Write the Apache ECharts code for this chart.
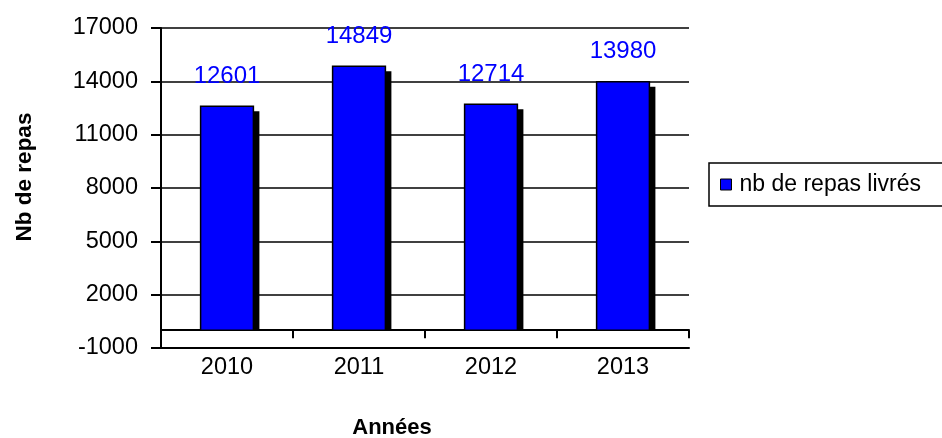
<!DOCTYPE html>
<html lang="fr">
<head>
    <meta charset="UTF-8">
    <title>Nb de repas livrés</title>
    <script src="https://cdn.jsdelivr.net/npm/echarts/dist/echarts.min.js"></script>
    <style>
        body { margin: 0; background: #fff; }
        #chart { width: 942px; height: 438px; }
    </style>
</head>
<body>
    <div id="chart"></div>
    <script>
        // data
        const years = ['2010', '2011', '2012', '2013'];
        const repas = [12601, 14849, 12714, 13980];
        const seriesName = 'nb de repas livrés';

        const FONT = '"Liberation Sans", Arial, sans-serif';
        const chart = echarts.init(document.getElementById('chart'));

        // bar with a flat black shadow, drawn from the axis coords
        function drawBar(params, api) {
            const idx = api.value(0);
            const val = api.value(1);
            const top = api.coord([idx, val]);
            const base = api.coord([idx, 0]);
            const w = api.size([1, 0])[0] * 0.4;
            const x = top[0] - w / 2;
            const h = base[1] - top[1];
            return {
                type: 'group',
                children: [
                    { type: 'rect', shape: { x: x + 6, y: top[1] + 5, width: w, height: h - 5 }, style: { fill: '#000' } },
                    { type: 'rect', shape: { x: x, y: top[1], width: w, height: h }, style: { fill: '#0000ff', stroke: '#000', lineWidth: 1.5 } },
                    { type: 'text', style: { text: String(val), x: top[0], y: top[1] - 18, align: 'center', verticalAlign: 'bottom', fill: '#0000ff', fontSize: 24, fontFamily: FONT } }
                ]
            };
        }

        const option = {
            animation: false,
            grid: { left: 161, right: 253, top: 28, bottom: 90, outerBoundsMode: 'none' },
            legend: {
                left: 709, top: 163,
                orient: 'vertical',
                padding: [10, 40, 10, 11],
                borderColor: '#000', borderWidth: 1.5,
                itemWidth: 11, itemHeight: 11,
                data: [{ name: seriesName, icon: 'rect', itemStyle: { color: '#0000ff', borderColor: '#000', borderWidth: 1 } }],
                textStyle: { fontSize: 23, color: '#000', fontFamily: FONT, padding: [0, 0, 0, 3] }
            },
            xAxis: [
                {
                    type: 'category', data: years, position: 'bottom',
                    axisLine: { onZero: false, lineStyle: { color: '#000', width: 2 } },
                    axisTick: { show: false },
                    axisLabel: { fontSize: 23.5, color: '#000', fontFamily: FONT, margin: 8 }
                },
                {
                    // category axis crossing at 0
                    type: 'category', data: years, position: 'bottom',
                    axisLine: { onZero: true, onZeroAxisIndex: 0, lineStyle: { color: '#000', width: 2 } },
                    axisTick: { show: true, length: 8, lineStyle: { color: '#000', width: 2 } },
                    axisLabel: { show: false }
                }
            ],
            yAxis: {
                type: 'value', min: -1000, max: 17000, interval: 3000,
                axisLine: { show: true, lineStyle: { color: '#000', width: 2 } },
                axisTick: { show: true, length: 10, lineStyle: { color: '#000', width: 2 } },
                axisLabel: { fontSize: 23.5, color: '#000', fontFamily: FONT, margin: 23, formatter: v => String(v) },
                splitLine: { show: true, lineStyle: { color: '#000', width: 1.5 } }
            },
            graphic: [
                { type: 'text', x: 392, y: 428, style: { text: 'Années', align: 'center', verticalAlign: 'middle', fontSize: 22, fontWeight: 'bold', fontFamily: FONT, fill: '#000' } },
                { type: 'text', x: 25, y: 177, rotation: Math.PI / 2, style: { text: 'Nb de repas', align: 'center', verticalAlign: 'middle', fontSize: 22.5, fontWeight: 'bold', fontFamily: FONT, fill: '#000' } }
            ],
            series: [
                {
                    name: seriesName,
                    type: 'custom',
                    xAxisIndex: 0,
                    renderItem: drawBar,
                    itemStyle: { color: '#0000ff' },
                    encode: { x: 0, y: 1 },
                    data: years.map((y, i) => [i, repas[i]]),
                    z: 3
                }
            ]
        };

        chart.setOption(option);
    </script>
</body>
</html>
